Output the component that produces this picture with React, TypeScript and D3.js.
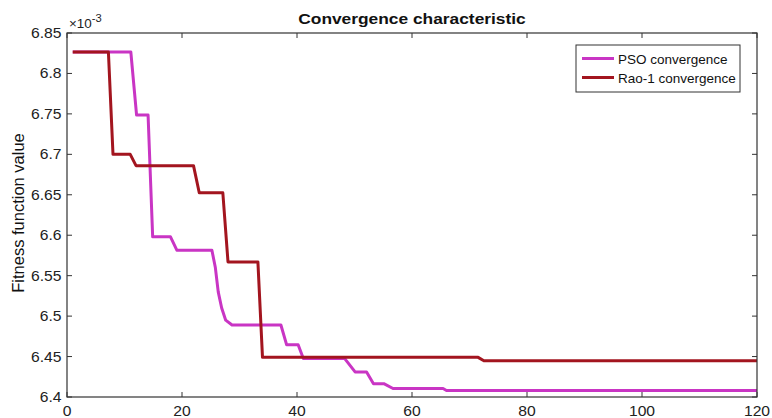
import React from "react";
import * as d3 from "d3";

const psoX = [1, 11.1, 12.1, 14.1, 14.9, 18.0, 19.1, 25.2, 25.8, 26.3, 26.9, 27.6, 28.7, 37.2, 38.2, 40.2, 41.1, 48.3, 50.1, 52.1, 53.3, 55.1, 56.7, 65.4, 66, 120];
const psoY = [6.8265, 6.8265, 6.7485, 6.7485, 6.598, 6.598, 6.5815, 6.5815, 6.56, 6.53, 6.51, 6.495, 6.489, 6.489, 6.4645, 6.4645, 6.4475, 6.4475, 6.431, 6.431, 6.4165, 6.4165, 6.4105, 6.4105, 6.408, 6.408];
const raoX = [1, 7.2, 8.0, 11.0, 12.0, 22.0, 23.0, 27.1, 28.0, 33.2, 34.0, 71.5, 72.5, 120];
const raoY = [6.8265, 6.8265, 6.7, 6.7, 6.686, 6.686, 6.6525, 6.6525, 6.567, 6.567, 6.449, 6.449, 6.4448, 6.4448];
const xTicks = [0, 20, 40, 60, 80, 100, 120];
const yTicks = [6.4, 6.45, 6.5, 6.55, 6.6, 6.65, 6.7, 6.75, 6.8, 6.85];
const seriesNames = ["PSO convergence", "Rao-1 convergence"];
const title = "Convergence characteristic";
const yLabel = "Fitness function value";

const W = 772, H = 418;
const L = 67, R = 757, T = 33, B = 397;
const FONT = "'Liberation Sans', Arial, Helvetica, sans-serif";
const AX = "#333";
const PSO_COLOR = "#c935c4";
const RAO_COLOR = "#a3151f";
const SX = 1.12;

export default function App() {
  const x = d3.scaleLinear().domain([0, 120]).range([L, R]);
  const y = d3.scaleLinear().domain([6.4, 6.85]).range([B, T]);
  const line = d3.line<[number, number]>().x((d) => x(d[0])).y((d) => y(d[1]));
  const pso = line(psoX.map((v, i) => [v, psoY[i]] as [number, number])) || "";
  const rao = line(raoX.map((v, i) => [v, raoY[i]] as [number, number])) || "";
  const tl = 5;
  return (
    <svg width={W} height={H} style={{ position: "absolute", left: 0, top: 0, background: "#fff" }} fontFamily={FONT}>
      <rect x={0} y={0} width={W} height={H} fill="#fff" />
      <path d={pso} fill="none" stroke={PSO_COLOR} strokeWidth={3} strokeLinejoin="round" />
      <path d={rao} fill="none" stroke={RAO_COLOR} strokeWidth={3} strokeLinejoin="round" />
      <rect x={L} y={T} width={R - L} height={B - T} fill="none" stroke={AX} strokeWidth={1.2} />
      {xTicks.map((t) => (
        <g key={"x" + t}>
          <line x1={x(t)} x2={x(t)} y1={B} y2={B - tl} stroke={AX} />
          <line x1={x(t)} x2={x(t)} y1={T} y2={T + tl} stroke={AX} />
          <text transform={`translate(${x(t)},416) scale(${SX},1)`} fontSize={14} textAnchor="middle" fill="#222">{t}</text>
        </g>
      ))}
      {yTicks.map((t) => (
        <g key={"y" + t}>
          <line x1={L} x2={L + tl} y1={y(t)} y2={y(t)} stroke={AX} />
          <line x1={R} x2={R - tl} y1={y(t)} y2={y(t)} stroke={AX} />
          <text transform={`translate(61.5,${y(t) + 5}) scale(${SX},1)`} fontSize={14} textAnchor="end" fill="#222">{String(t)}</text>
        </g>
      ))}
      <text transform={`translate(69,28) scale(${SX},1)`} fontSize={12} fill="#222">
        ×10<tspan dy={-6} fontSize={10}>-3</tspan>
      </text>
      <text transform={`translate(${(L + R) / 2},24) scale(${SX},1)`} fontSize={15.5} fontWeight="bold" textAnchor="middle" fill="#111">{title}</text>
      <text transform={`translate(24,213) rotate(-90)`} fontSize={16.5} textAnchor="middle" fill="#111">{yLabel}</text>
      <rect x={576} y={45} width={164} height={47} fill="#fff" stroke={AX} strokeWidth={1} />
      {seriesNames.map((n, i) => (
        <g key={n}>
          <line x1={582} x2={614} y1={58.5 + i * 19} y2={58.5 + i * 19} stroke={i === 0 ? PSO_COLOR : RAO_COLOR} strokeWidth={3} />
          <text transform={`translate(618,${63.5 + i * 19}) scale(1.0,1)`} fontSize={13.5} fill="#111">{n}</text>
        </g>
      ))}
    </svg>
  );
}
